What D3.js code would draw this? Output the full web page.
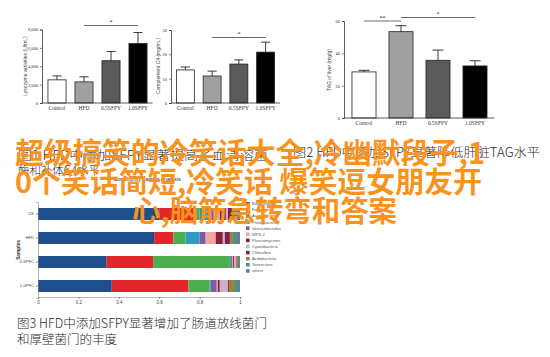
<!DOCTYPE html>
<html><head><meta charset="utf-8">
<script src="https://cdn.jsdelivr.net/npm/d3@7"></script>
<style>body{margin:0;background:#fff}svg{display:block}</style>
</head><body>
<svg id="c" width="550" height="357"></svg>
<script>
// ---------- DATA ----------
const groups = ["Control", "HFD", "0.5SFPY", "1.0SFPY"];
const lysozyme = [2520, 2300, 4600, 6470];
const lysozymeErr = [430, 550, 1000, 1200];
const lysozymeTicks = [0, 2000, 4000, 6000, 8000];
const c4 = [13.6, 11.1, 16.0, 20.9];
const c4Err = [1.2, 2.0, 1.7, 4.1];
const c4Ticks = [0, 10, 20, 30];
const tag = [28.5, 53.4, 35.7, 32.2];
const tagErr = [1.0, 3.7, 6.3, 3.2];
const tagTicks = [0, 20, 40, 60];
const sigA = [["HFD", "1.0SFPY", "*"]];
const sigB = [["HFD", "1.0SFPY", "*"]];
const sigC = [["Control", "HFD", "**"], ["HFD", "1.0SFPY", "*"]];
const barFills = ["#ffffff", "#a0a0a0", "#5a5a5a", "#000000"];

const samples = ["CK", "HFD", "0.5PFC", "1.0PFC"];
const phyla = ["Bacteroidetes", "Firmicutes", "Actinobacteria", "Proteobacteria",
  "Verrucomicrobia", "WPS-2", "Planctomycetes", "Cyanobacteria",
  "Chloroflexi", "Acidobacteria", "Tenericutes", "others"];
const phylaColors = ["#1f4e8c", "#e3262a", "#4cae4c", "#2f9bbd", "#7b5ea7", "#f3a7a0",
  "#8c1c3c", "#c8b4c8", "#7b2150", "#a77e3a", "#3c9c80", "#6c7a98"];
// fraction of each phylum per sample (CK, HFD, 0.5PFC, 1.0PFC)
const abundance = {
  "Bacteroidetes":   [0.600, 0.575, 0.340, 0.365],
  "Firmicutes":      [0.180, 0.095, 0.230, 0.380],
  "Actinobacteria":  [0.020, 0.060, 0.380, 0.105],
  "Proteobacteria":  [0.050, 0.070, 0.005, 0.005],
  "Verrucomicrobia": [0.020, 0.030, 0.005, 0.030],
  "WPS-2":           [0.030, 0.050, 0.005, 0.005],
  "Planctomycetes":  [0.030, 0.035, 0.005, 0.010],
  "Cyanobacteria":   [0.010, 0.010, 0.010, 0.040],
  "Chloroflexi":     [0.020, 0.025, 0.003, 0.005],
  "Acidobacteria":   [0.010, 0.015, 0.007, 0.025],
  "Tenericutes":     [0.015, 0.015, 0.005, 0.015],
  "others":          [0.015, 0.020, 0.005, 0.015]
};
const fracTicks = [0, 0.2, 0.4, 0.6, 0.8, 1];

const captions1 = ["图1 HFD中添加SFPY显著提高了血清溶菌", "酶和补体C4水平"];
const caption2 = "图2 HFD中添加SFPY显著降低肝脏TAG水平";
const captions3 = ["图3 HFD中添加SFPY显著增加了肠道放线菌门", "和厚壁菌门的丰度"];
const overlay = ["超级搞笑的冷笑话大全,冷幽默段子,1", "0个笑话简短,冷笑话 爆笑逗女朋友开", "心,脑筋急转弯和答案"];

// ---------- DRAW ----------
const svg = d3.select("#c");
svg.append("rect").attr("width", 550).attr("height", 357).attr("fill", "#fff");
const serif = "'Liberation Serif','DejaVu Serif',serif";

function barPanel(cfg) {
  const g = svg.append("g");
  const x = d3.scaleBand().domain(groups).range(cfg.xr).paddingInner(cfg.pi).paddingOuter(cfg.pi / 2);
  const y = d3.scaleLinear().domain(cfg.dom).range(cfg.yr);
  // bars
  g.selectAll("rect.b").data(groups).join("rect")
    .attr("x", d => x(d)).attr("width", x.bandwidth())
    .attr("y", (d, i) => y(cfg.vals[i])).attr("height", (d, i) => y(0) - y(cfg.vals[i]))
    .attr("fill", (d, i) => barFills[i]).attr("stroke", "#222").attr("stroke-width", 0.8);
  // error bars
  const cap = cfg.cap;
  groups.forEach((d, i) => {
    const cx = x(d) + x.bandwidth() / 2;
    const top = y(cfg.vals[i] + cfg.errs[i]);
    g.append("line").attr("x1", cx).attr("x2", cx).attr("y1", y(cfg.vals[i])).attr("y2", top)
      .attr("stroke", "#222").attr("stroke-width", 0.9);
    g.append("line").attr("x1", cx - cap).attr("x2", cx + cap).attr("y1", top).attr("y2", top)
      .attr("stroke", "#222").attr("stroke-width", 0.9);
  });
  // axes
  const ya = d3.axisLeft(y).tickValues(cfg.ticks).tickSize(2).tickPadding(2);
  const yg = g.append("g").attr("transform", `translate(${cfg.ax},0)`).call(ya);
  yg.select(".domain").attr("stroke", "#333").attr("stroke-width", 0.8);
  yg.selectAll(".tick line").attr("stroke", "#333").attr("stroke-width", 0.6);
  yg.selectAll("text").attr("font-size", 4.5).attr("font-family", serif).attr("fill", "#333");
  g.append("line").attr("x1", cfg.ax).attr("x2", cfg.xr[1] + 1).attr("y1", y(0)).attr("y2", y(0))
    .attr("stroke", "#333").attr("stroke-width", 0.8);
  g.selectAll("text.xl").data(groups).join("text")
    .attr("x", d => x(d) + x.bandwidth() / 2).attr("y", y(0) + 6.5)
    .attr("text-anchor", "middle").attr("font-size", 5.5).attr("font-family", serif)
    .attr("fill", "#333").text(d => d);
  // y title
  g.append("text").attr("transform", `translate(${cfg.ltx},${cfg.lty}) rotate(-90)`)
    .attr("text-anchor", "middle").attr("font-size", 5).attr("font-family", "'Liberation Sans',Arial,sans-serif")
    .attr("fill", "#444").text(cfg.label);
  // significance
  cfg.sig.forEach((s, k) => {
    const x1 = x(s[0]) + x.bandwidth() / 2, x2 = x(s[1]) + x.bandwidth() / 2;
    const ly = cfg.sigY[k];
    g.append("line").attr("x1", x1).attr("x2", x2).attr("y1", ly).attr("y2", ly)
      .attr("stroke", "#444").attr("stroke-width", 0.8);
    g.append("text").attr("x", (x1 + x2) / 2).attr("y", ly - 1.5).attr("text-anchor", "middle")
      .attr("font-size", 6).attr("font-family", serif).attr("fill", "#222").text(s[2]);
  });
}

barPanel({ xr: [43.5, 151.5], pi: 0.33, dom: [0, 8000], yr: [103, 29.5], vals: lysozyme, errs: lysozymeErr,
  ticks: lysozymeTicks, ax: 42, cap: 4.5, label: "Lysozyme activities (U/mL)", ltx: 27, lty: 66,
  sig: sigA, sigY: [25.5] });
barPanel({ xr: [172, 279], pi: 0.33, dom: [0, 30], yr: [103, 30], vals: c4, errs: c4Err,
  ticks: c4Ticks, ax: 171, cap: 4.5, label: "Complement C4 (mg/mL)", ltx: 160, lty: 66,
  sig: sigB, sigY: [37.5] });
barPanel({ xr: [345.5, 493.5], pi: 0.35, dom: [0, 60], yr: [118, 21], vals: tag, errs: tagErr,
  ticks: tagTicks, ax: 344, cap: 5.5, label: "TAG of liver (mg/g)", ltx: 331, lty: 70,
  sig: sigC, sigY: [21, 17.5] });

// captions
function caption(lines, x, y0, lh, widths) {
  lines.forEach((t, i) => {
    svg.append("text").attr("x", x).attr("y", y0 + i * lh)
      .attr("font-size", 12.5).attr("font-family", "'Noto Sans CJK SC',sans-serif")
      .attr("font-weight", 300).attr("fill", "#2a2a2a")
      .attr("textLength", widths[i]).attr("lengthAdjust", "spacingAndGlyphs").text(t);
  });
}
caption(captions1, 18, 159.5, 15.5, [250, 82]);
caption([caption2], 293, 157, 15.5, [247]);

// stacked horizontal bar chart
const sx = d3.scaleLinear().domain([0, 1]).range([38, 240]);
const sy = d3.scaleBand().domain(samples).range([202, 298]).paddingInner(0.5).paddingOuter(0.25);
const rows = samples.map((s, j) => { const o = { sample: s }; phyla.forEach(p => o[p] = abundance[p][j]); return o; });
const stack = d3.stack().keys(phyla)(rows);
const sg = svg.append("g");
sg.append("text").attr("x", 147).attr("y", 181).attr("text-anchor", "middle").attr("font-size", 5.5)
  .attr("font-family", "'Liberation Sans',Arial,sans-serif").attr("fill", "#333").text("Community barplot analysis");
sg.selectAll("g.layer").data(stack).join("g").attr("fill", (d, i) => phylaColors[i])
  .selectAll("rect").data(d => d).join("rect")
  .attr("x", d => sx(d[0])).attr("width", d => Math.max(0, sx(d[1]) - sx(d[0])))
  .attr("y", d => sy(d.data.sample)).attr("height", sy.bandwidth());
const xa = sg.append("g").attr("transform", "translate(0,297)")
  .call(d3.axisBottom(sx).tickValues(fracTicks).tickSize(2).tickPadding(1.5).tickFormat(d3.format("")));
xa.select(".domain").attr("stroke", "#888").attr("stroke-width", 0.6);
xa.selectAll(".tick line").attr("stroke", "#888");
xa.selectAll("text").attr("font-size", 4.5).attr("fill", "#444");
const ya = sg.append("g").attr("transform", "translate(38,0)")
  .call(d3.axisLeft(sy).tickSize(2).tickPadding(2));
ya.select(".domain").attr("stroke", "#888").attr("stroke-width", 0.6);
ya.selectAll(".tick line").attr("stroke", "#888");
ya.selectAll("text").attr("font-size", 4.2).attr("fill", "#444");
sg.append("text").attr("transform", "translate(20,250) rotate(-90)").attr("text-anchor", "middle")
  .attr("font-size", 4.8).attr("font-weight", "bold").attr("fill", "#333").attr("font-family", "'Liberation Sans',Arial,sans-serif").text("Samples");
const lg = sg.selectAll("g.lg").data(phyla).join("g").attr("transform", (d, i) => `translate(246,${202 + i * 6.1})`);
lg.append("rect").attr("width", 3.6).attr("height", 3.6).attr("fill", (d, i) => phylaColors[i]);
lg.append("text").attr("x", 6).attr("y", 3.2).attr("font-size", 4).attr("fill", "#555")
  .attr("font-family", "'Liberation Sans',Arial,sans-serif").text(d => d);

caption(captions3, 17, 327.5, 16, [250, 100]);

// orange overlay
const ox = [15, 15, 132], oy = [163.5, 192.5, 221.5], ow = [470, 467, 265];
overlay.forEach((t, i) => {
  svg.append("text").attr("x", ox[i]).attr("y", oy[i]).attr("font-size", 29)
    .attr("font-family", "'Noto Sans CJK SC',sans-serif").attr("font-weight", 700)
    .attr("fill", "#f7931e").attr("textLength", ow[i]).attr("lengthAdjust", "spacingAndGlyphs").text(t);
});
</script>
</body></html>
